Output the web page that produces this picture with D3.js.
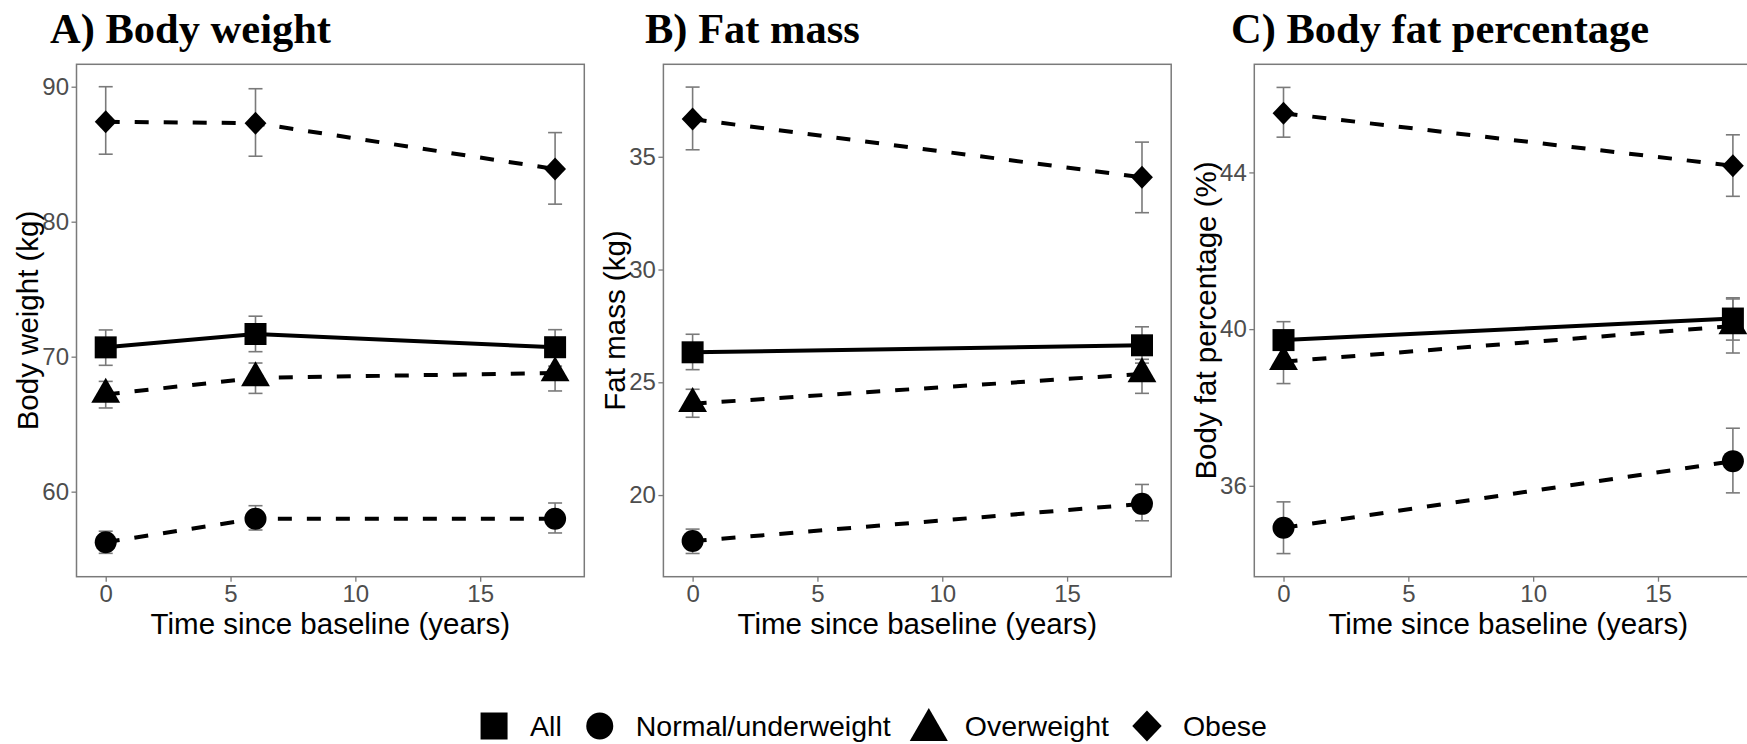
<!DOCTYPE html>
<html>
<head>
<meta charset="utf-8">
<script src="https://cdn.jsdelivr.net/npm/d3@7"></script>
<style>
  html, body { margin: 0; padding: 0; background: #ffffff; }
  svg { display: block; }
</style>
</head>
<body>
<script>
// ---- data -------------------------------------------------------------
const groups = ["All", "Normal/underweight", "Overweight", "Obese"];

const yearsWeight = [0, 6, 18];
const yearsFat = [0, 18];
const xTicks = [0, 5, 10, 15];

// rows follow the order of `groups`
const weightMean  = [[70.69, 71.68, 70.70], [56.25, 58.00, 58.00], [67.20, 68.42, 68.80], [87.40, 87.30, 83.90]];
const weightLower = [[69.36, 70.37, 69.30], [55.43, 57.16, 56.94], [66.20, 67.28, 67.46], [85.00, 84.85, 81.30]];
const weightUpper = [[71.98, 73.00, 72.00], [57.07, 58.96, 59.16], [68.17, 69.53, 70.00], [90.00, 89.85, 86.60]];
const weightTicks = [60, 70, 80, 90];

const fatMassMean  = [[26.33, 26.64], [17.96, 19.61], [24.05, 25.37], [36.67, 34.09]];
const fatMassLower = [[25.56, 25.85], [17.41, 18.86], [23.45, 24.51], [35.31, 32.52]];
const fatMassUpper = [[27.13, 27.46], [18.49, 20.47], [24.69, 26.02], [38.09, 35.65]];
const fatMassTicks = [20, 25, 30, 35];

const bodyFatMean  = [[39.72, 40.27], [34.93, 36.63], [39.17, 40.08], [45.51, 44.17]];
const bodyFatLower = [[39.25, 39.72], [34.27, 35.82], [38.61, 39.39], [44.90, 43.39]];
const bodyFatUpper = [[40.19, 40.80], [35.59, 37.47], [39.73, 40.77], [46.17, 44.96]];
const bodyFatTicks = [36, 40, 44];

// ---- layout -----------------------------------------------------------
const W = 1747, H = 744;
const plotTop = 64.3, plotBottom = 576.7, plotWidth = 507.8;
const xDomain = [-1.17, 19.17];
const sansFont = "'Liberation Sans', Arial, Helvetica, sans-serif";
const serifFont = "'Liberation Serif', 'Times New Roman', Times, serif";
const greyLine = "#7a7a7a";

const panels = [
  { title: "A) Body weight", yTitle: "Body weight (kg)", years: yearsWeight,
    mean: weightMean, lower: weightLower, upper: weightUpper, ticks: weightTicks,
    yDomain: [53.7, 91.66], left: 76.5, titleX: 50 },
  { title: "B) Fat mass", yTitle: "Fat mass (kg)", years: yearsFat,
    mean: fatMassMean, lower: fatMassLower, upper: fatMassUpper, ticks: fatMassTicks,
    yDomain: [16.38, 39.1], left: 663.4, titleX: 645 },
  { title: "C) Body fat percentage", yTitle: "Body fat percentage (%)", years: yearsFat,
    mean: bodyFatMean, lower: bodyFatLower, upper: bodyFatUpper, ticks: bodyFatTicks,
    yDomain: [33.68, 46.76], left: 1254.3, titleX: 1231 }
];

// ---- marker shapes (R-style filled square, circle, triangle, diamond) ----
const shapeSquare = { draw(ctx, s) { const h = s / 2; ctx.rect(-h, -h, s, s); } };
const shapeCircle = { draw(ctx, s) { const r = s / 2; ctx.moveTo(r, 0); ctx.arc(0, 0, r, 0, 2 * Math.PI); } };
// triangle centred on its centroid; s = height
const shapeTriangle = { draw(ctx, s) {
  const r = s / 1.5, hb = r * Math.sqrt(3) / 2;
  ctx.moveTo(0, -r); ctx.lineTo(hb, r / 2); ctx.lineTo(-hb, r / 2); ctx.closePath(); } };
// diamond; s = full height
const shapeDiamond = { draw(ctx, s) {
  const hh = s / 2, hw = hh * 0.95;
  ctx.moveTo(0, -hh); ctx.lineTo(hw, 0); ctx.lineTo(0, hh); ctx.lineTo(-hw, 0); ctx.closePath(); } };

const groupShapes = [shapeSquare, shapeCircle, shapeTriangle, shapeDiamond];
const plotSizes = [22, 22, 25, 23];
const legendSizes = [27, 27, 33, 31];

const svg = d3.select("body").append("svg")
  .attr("width", W).attr("height", H)
  .attr("viewBox", `0 0 ${W} ${H}`);

panels.forEach(p => {
  const x = d3.scaleLinear().domain(xDomain).range([p.left, p.left + plotWidth]);
  const y = d3.scaleLinear().domain(p.yDomain).range([plotBottom, plotTop]);
  const g = svg.append("g");

  // panel title
  g.append("text")
    .attr("x", p.titleX).attr("y", 43)
    .attr("font-family", serifFont).attr("font-weight", "bold")
    .attr("font-size", 42.5).attr("fill", "#000")
    .text(p.title);

  // axes
  const yAxis = g.append("g")
    .attr("transform", `translate(${p.left},0)`)
    .call(d3.axisLeft(y).tickValues(p.ticks).tickSize(5).tickPadding(2.5));
  const xAxis = g.append("g")
    .attr("transform", `translate(0,${plotBottom})`)
    .call(d3.axisBottom(x).tickValues(xTicks).tickSize(5).tickPadding(3));
  [yAxis, xAxis].forEach(a => {
    a.select(".domain").remove();
    a.selectAll(".tick line").attr("stroke", greyLine).attr("stroke-width", 1.3);
    a.selectAll(".tick text")
      .attr("font-family", sansFont).attr("font-size", 24).attr("fill", "#4d4d4d");
  });

  // panel border
  g.append("rect")
    .attr("x", p.left).attr("y", plotTop)
    .attr("width", plotWidth).attr("height", plotBottom - plotTop)
    .attr("fill", "none").attr("stroke", greyLine).attr("stroke-width", 1.5);

  // axis titles
  g.append("text")
    .attr("x", p.left + plotWidth / 2).attr("y", 633.5)
    .attr("text-anchor", "middle")
    .attr("font-family", sansFont).attr("font-size", 29.5).attr("fill", "#000")
    .text("Time since baseline (years)");
  g.append("text")
    .attr("transform", `translate(${p.left - 49},${(plotTop + plotBottom) / 2}) rotate(-90)`)
    .attr("text-anchor", "middle").attr("dominant-baseline", "central")
    .attr("font-family", sansFont).attr("font-size", 29.5).attr("fill", "#000")
    .text(p.yTitle);

  // error bars
  groups.forEach((grp, gi) => {
    const eb = g.append("g").attr("stroke", greyLine).attr("stroke-width", 1.6);
    p.years.forEach((t, ti) => {
      const cx = x(t), y0 = y(p.lower[gi][ti]), y1 = y(p.upper[gi][ti]);
      eb.append("line").attr("x1", cx).attr("x2", cx).attr("y1", y0).attr("y2", y1);
      eb.append("line").attr("x1", cx - 7).attr("x2", cx + 7).attr("y1", y0).attr("y2", y0);
      eb.append("line").attr("x1", cx - 7).attr("x2", cx + 7).attr("y1", y1).attr("y2", y1);
    });
  });

  // trajectory lines
  const line = d3.line().x(d => x(d[0])).y(d => y(d[1]));
  groups.forEach((grp, gi) => {
    g.append("path")
      .datum(p.years.map((t, ti) => [t, p.mean[gi][ti]]))
      .attr("d", line)
      .attr("fill", "none").attr("stroke", "#000").attr("stroke-width", 4)
      .attr("stroke-dasharray", gi === 0 ? null : "14,15");
  });

  // markers
  groups.forEach((grp, gi) => {
    const sym = d3.symbol().type(groupShapes[gi]).size(plotSizes[gi]);
    p.years.forEach((t, ti) => {
      g.append("path")
        .attr("d", sym())
        .attr("transform", `translate(${x(t)},${y(p.mean[gi][ti])})`)
        .attr("fill", "#000");
    });
  });
});

// ---- legend -------------------------------------------------------------
const legendY = 726, legendCenterX = 874;
const legend = svg.append("g");
let cursor = 0;
groups.forEach((grp, gi) => {
  const item = legend.append("g");
  item.append("path")
    .attr("d", d3.symbol().type(groupShapes[gi]).size(legendSizes[gi])())
    .attr("transform", `translate(0,${gi === 2 ? 4 : 0})`)
    .attr("fill", "#000");
  const txt = item.append("text")
    .attr("x", 36).attr("y", 0)
    .attr("dominant-baseline", "central")
    .attr("font-family", sansFont).attr("font-size", 28.5).attr("fill", "#000")
    .text(grp);
  const w = txt.node().getComputedTextLength();
  item.attr("transform", `translate(${cursor},${legendY})`);
  cursor += 36 + w + 38;
});
const legendWidth = cursor - 38 + 13;
legend.attr("transform", `translate(${legendCenterX - legendWidth / 2 + 13},0)`);
</script>
</body>
</html>
